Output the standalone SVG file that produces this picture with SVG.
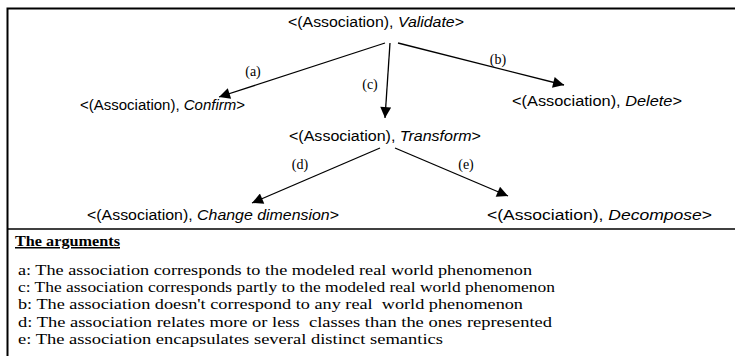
<svg xmlns="http://www.w3.org/2000/svg" width="735" height="356" viewBox="0 0 735 356">
<defs>
<style>
.n{font-family:"Liberation Sans",Arial,sans-serif;font-size:14px;fill:#000}
.l{font-family:"Liberation Serif","Times New Roman",serif;font-size:14px;fill:#000}
.t{font-family:"Liberation Serif","Times New Roman",serif;font-size:15px;fill:#000}
.e{stroke:#000;stroke-width:1.3;fill:none;marker-end:url(#ah)}
</style>
<marker id="ah" viewBox="0 0 10 10" refX="10" refY="5" markerWidth="16" markerHeight="11" markerUnits="userSpaceOnUse" orient="auto">
<path d="M0,0 L10,5 L0,10 z" fill="#000"/>
</marker>
</defs>
<rect width="735" height="356" fill="#fff"/>
<path d="M7.5,356 V8.5 H735" fill="none" stroke="#000" stroke-width="2"/>
<line x1="7" y1="229" x2="735" y2="229" stroke="#000" stroke-width="1.5"/>
<g id="validate"><text class="n" x="288" y="27" textLength="176" lengthAdjust="spacingAndGlyphs">&lt;(Association), <tspan font-style="italic">Validate</tspan>&gt;</text></g>
<g id="confirm"><text class="n" x="80" y="110" textLength="165" lengthAdjust="spacingAndGlyphs">&lt;(Association), <tspan font-style="italic">Confirm</tspan>&gt;</text></g>
<g id="delete"><text class="n" x="512" y="106" textLength="170" lengthAdjust="spacingAndGlyphs">&lt;(Association), <tspan font-style="italic">Delete</tspan>&gt;</text></g>
<g id="transform"><text class="n" x="289" y="141" textLength="192" lengthAdjust="spacingAndGlyphs">&lt;(Association), <tspan font-style="italic">Transform</tspan>&gt;</text></g>
<g id="change"><text class="n" x="87" y="220" textLength="252" lengthAdjust="spacingAndGlyphs">&lt;(Association), <tspan font-style="italic">Change dimension</tspan>&gt;</text></g>
<g id="decompose"><text class="n" x="487" y="220" textLength="225" lengthAdjust="spacingAndGlyphs">&lt;(Association), <tspan font-style="italic">Decompose</tspan>&gt;</text></g>
<g id="connectors">
<line class="e" x1="385" y1="43" x2="219" y2="97"/>
<line class="e" x1="390" y1="43" x2="385" y2="118"/>
<line class="e" x1="398" y1="43" x2="564" y2="85"/>
<line class="e" x1="380" y1="148" x2="252" y2="203"/>
<line class="e" x1="395" y1="148" x2="508" y2="196"/>
<text class="l" x="253" y="76" text-anchor="middle">(a)</text>
<text class="l" x="370" y="89" text-anchor="middle">(c)</text>
<text class="l" x="498" y="64" text-anchor="middle">(b)</text>
<text class="l" x="300" y="169" text-anchor="middle">(d)</text>
<text class="l" x="466" y="169" text-anchor="middle">(e)</text>
</g>
<g id="arguments">
<text class="t" x="15" y="246" font-weight="bold" text-decoration="underline" textLength="105" lengthAdjust="spacingAndGlyphs">The arguments</text>
<text class="t" x="18" y="275" textLength="514" lengthAdjust="spacingAndGlyphs">a: The association corresponds to the modeled real world phenomenon</text>
<text class="t" x="18" y="292" textLength="537" lengthAdjust="spacingAndGlyphs">c: The association corresponds partly to the modeled real world phenomenon</text>
<text class="t" x="18" y="309" xml:space="preserve" textLength="505" lengthAdjust="spacingAndGlyphs">b: The association doesn't correspond to any real  world phenomenon</text>
<text class="t" x="18" y="327" xml:space="preserve" textLength="534" lengthAdjust="spacingAndGlyphs">d: The association relates more or less  classes than the ones represented</text>
<text class="t" x="18" y="344" textLength="425" lengthAdjust="spacingAndGlyphs">e: The association encapsulates several distinct semantics</text>
</g>
</svg>
